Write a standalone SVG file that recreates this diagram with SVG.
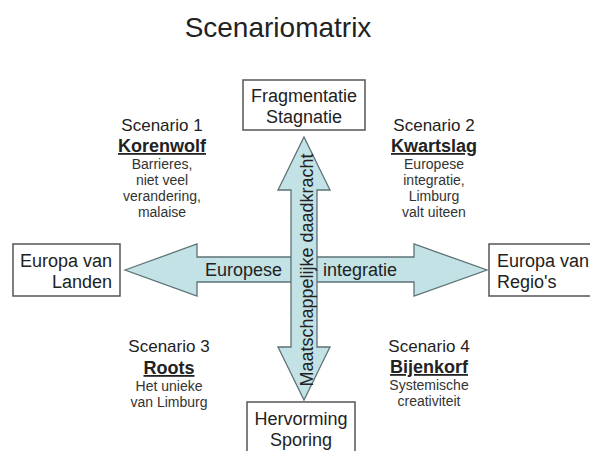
<svg xmlns="http://www.w3.org/2000/svg" width="590" height="451" viewBox="0 0 590 451">
<style>
text{font-family:"Liberation Sans",Arial,sans-serif;fill:#222}
.box{fill:#fff;stroke:#555;stroke-width:1.5}
.arrow{fill:#c2e2e6;stroke:#5d7275;stroke-width:1.3;stroke-linejoin:miter}
.lbl{font-size:18px}
.sc{font-size:17px;text-anchor:middle}
.nm{font-size:18px;font-weight:bold;text-anchor:middle;text-decoration:underline}
.ds{font-size:14px;text-anchor:middle;fill:#333}
</style>
<rect width="590" height="451" fill="#fff"/>
<text x="278" y="37" font-size="28" text-anchor="middle">Scenariomatrix</text>
<g id="connectors">
<polygon class="arrow" points="125,270 197,244 197,257 414,257 414,244 487,270 414,296 414,282 197,282 197,296"/>
<polygon class="arrow" points="304,137 330,190 317,190 317,347 330,347 304,400 278,347 291,347 291,190 278,190"/>
<text class="lbl" x="205" y="276">Europese</text>
<text class="lbl" x="323" y="276">integratie</text>
<text class="lbl" transform="translate(313,270) rotate(-90)" text-anchor="middle">Maatschappelijke daadkracht</text>
</g>
<g id="top">
<rect class="box" x="243" y="80" width="122" height="50"/>
<text class="lbl" x="304" y="102" text-anchor="middle">Fragmentatie</text>
<text class="lbl" x="304" y="123" text-anchor="middle">Stagnatie</text>
</g>
<g id="bottom">
<rect class="box" x="247" y="402" width="108" height="60"/>
<text class="lbl" x="301" y="425" text-anchor="middle">Hervorming</text>
<text class="lbl" x="301" y="446" text-anchor="middle">Sporing</text>
</g>
<g id="left">
<rect class="box" x="13" y="244" width="107" height="52"/>
<text class="lbl" x="112" y="267" text-anchor="end">Europa van</text>
<text class="lbl" x="112" y="288" text-anchor="end">Landen</text>
</g>
<g id="right">
<rect class="box" x="489" y="244" width="104" height="52"/>
<text class="lbl" x="497" y="267">Europa van</text>
<text class="lbl" x="497" y="288">Regio's</text>
</g>
<g id="scenario1">
<text class="sc" x="162" y="131">Scenario 1</text>
<text class="nm" x="162" y="152">Korenwolf</text>
<text class="ds" x="162" y="169">Barrieres,</text>
<text class="ds" x="162" y="185">niet veel</text>
<text class="ds" x="162" y="201">verandering,</text>
<text class="ds" x="162" y="217">malaise</text>
</g>
<g id="scenario2">
<text class="sc" x="434" y="131">Scenario 2</text>
<text class="nm" x="434" y="152">Kwartslag</text>
<text class="ds" x="434" y="169">Europese</text>
<text class="ds" x="434" y="185">integratie,</text>
<text class="ds" x="434" y="201">Limburg</text>
<text class="ds" x="434" y="217">valt uiteen</text>
</g>
<g id="scenario3">
<text class="sc" x="169" y="352">Scenario 3</text>
<text class="nm" x="169" y="374">Roots</text>
<text class="ds" x="169" y="391">Het unieke</text>
<text class="ds" x="169" y="407">van Limburg</text>
</g>
<g id="scenario4">
<text class="sc" x="429" y="352">Scenario 4</text>
<text class="nm" x="429" y="373">Bijenkorf</text>
<text class="ds" x="429" y="390">Systemische</text>
<text class="ds" x="429" y="406">creativiteit</text>
</g>
</svg>
